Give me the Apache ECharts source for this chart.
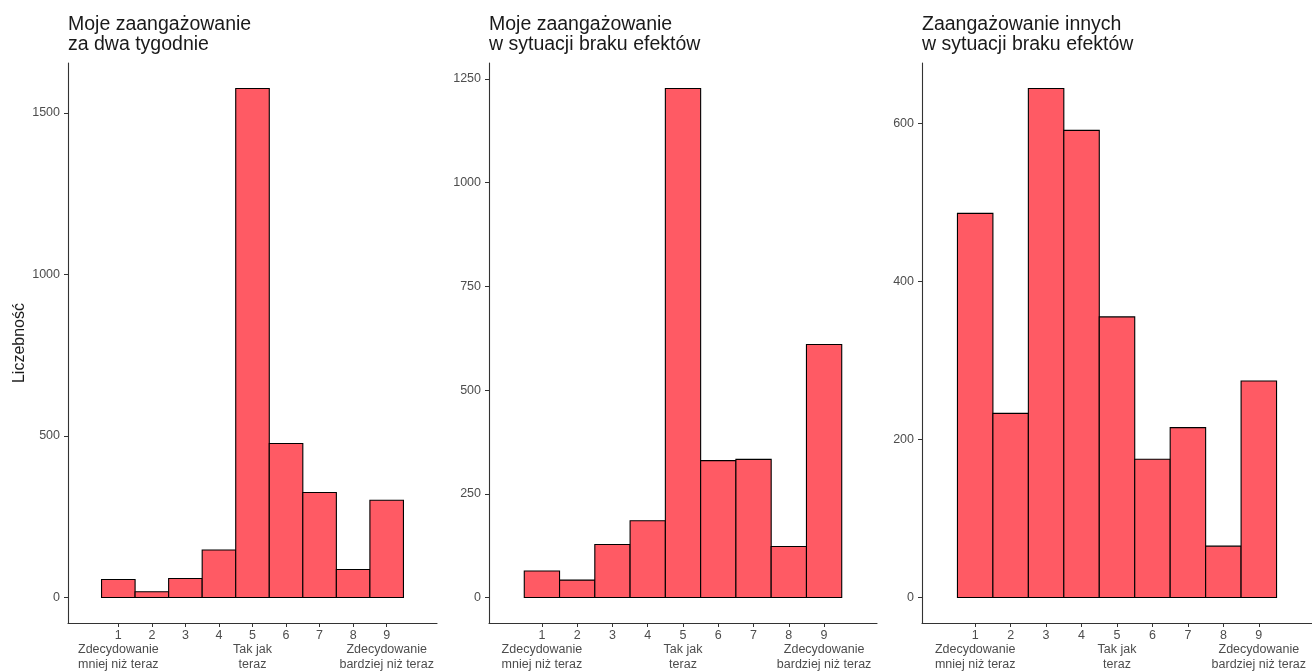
<!DOCTYPE html>
<html>
<head>
<meta charset="utf-8">
<script src="https://cdn.jsdelivr.net/npm/echarts@6/dist/echarts.min.js"></script>
<style>
html,body{margin:0;padding:0;background:#fff;}
#c{width:1312px;height:672px;}
</style>
</head>
<body>
<div id="c"></div>
<script>
// ---- data ----
const bins = [1, 2, 3, 4, 5, 6, 7, 8, 9];
const titles = [
  'Moje zaangażowanie\nza dwa tygodnie',
  'Moje zaangażowanie\nw sytuacji braku efektów',
  'Zaangażowanie innych\nw sytuacji braku efektów'
];
const ownTwoWeeks   = [56, 18, 59, 147, 1576, 477, 325, 87, 301];
const ownNoEffect   = [64, 42, 128, 185, 1227, 330, 333, 123, 610];
const otherNoEffect = [486, 233, 644, 591, 355, 175, 215, 65, 274];
const yTicks1 = [0, 500, 1000, 1500];
const yTicks2 = [0, 250, 500, 750, 1000, 1250];
const yTicks3 = [0, 200, 400, 600];
const anchorValues = [1, 5, 9];
const anchorLabels = ['Zdecydowanie\nmniej niż teraz', 'Tak jak\nteraz', 'Zdecydowanie\nbardziej niż teraz'];
const yName = 'Liczebność';

// ---- layout ----
const panels = [
  {data: ownTwoWeeks, ticks: yTicks1, left: 68, width: 369},
  {data: ownNoEffect, ticks: yTicks2, left: 489, width: 388},
  {data: otherNoEffect, ticks: yTicks3, left: 922, width: 395}
];
const FONT = 'Liberation Sans, Arial, sans-serif';
const AX = '#333333';
const TXT = '#4D4D4D';

const chart = echarts.init(document.getElementById('c'), null, {renderer: 'canvas'});

const xAxes = [];
panels.forEach((p, i) => {
  xAxes.push({
    type: 'value',
    gridIndex: i,
    min: -0.5,
    max: 10.5,
    splitLine: {show: false},
    axisLine: {show: true, onZero: false, lineStyle: {color: AX, width: 1.1}},
    axisTick: {show: true, length: 4, lineStyle: {color: AX}, customValues: bins},
    axisLabel: {
      show: true, customValues: bins, showMinLabel: true, showMaxLabel: true, hideOverlap: false,
      margin: 5, fontFamily: FONT, fontSize: 12.5, lineHeight: 14.5, color: TXT,
      formatter: v => String(v)
    }
  });
});
panels.forEach((p, i) => {
  xAxes.push({
    type: 'value',
    gridIndex: i,
    position: 'bottom',
    min: -0.5,
    max: 10.5,
    splitLine: {show: false},
    axisLine: {show: false, onZero: false},
    axisTick: {show: false},
    axisLabel: {
      show: true, customValues: anchorValues, showMinLabel: true, showMaxLabel: true, hideOverlap: false,
      margin: 19.5, fontFamily: FONT, fontSize: 12.5, lineHeight: 14.5, color: TXT,
      formatter: v => anchorLabels[anchorValues.indexOf(v)] || ''
    }
  });
});

const option = {
  backgroundColor: '#ffffff',
  animation: false,
  title: panels.map((p, i) => ({
    text: titles[i],
    left: p.left,
    top: 14,
    padding: 0,
    textStyle: {fontFamily: FONT, fontSize: 19.5, fontWeight: 'normal', color: '#1a1a1a', lineHeight: 20.5}
  })),
  grid: panels.map(p => ({left: p.left, top: 63, width: p.width, height: 560, containLabel: false})),
  xAxis: xAxes,
  yAxis: panels.map((p, i) => {
    const mx = Math.max(...p.data);
    return {
      type: 'value',
      gridIndex: i,
      min: -0.05 * mx,
      max: 1.05 * mx,
      splitLine: {show: false},
      axisLine: {show: true, onZero: false, lineStyle: {color: AX, width: 1.1}},
      axisTick: {show: true, length: 4, lineStyle: {color: AX}, customValues: p.ticks},
      axisLabel: {show: true, customValues: p.ticks, showMinLabel: true, showMaxLabel: true,
        margin: 8, fontFamily: FONT, fontSize: 12.5, color: TXT, formatter: v => String(v)},
      name: i === 0 ? yName : '',
      nameLocation: 'middle',
      nameGap: 40,
      nameRotate: 90,
      nameTextStyle: {fontFamily: FONT, fontSize: 16, color: '#1a1a1a'}
    };
  }),
  series: panels.map((p, i) => ({
    type: 'custom',
    xAxisIndex: i,
    yAxisIndex: i,
    data: bins.map((b, k) => [b, p.data[k]]),
    renderItem: function (params, api) {
      const x = api.value(0), y = api.value(1);
      const a = api.coord([x - 0.5, 0]);
      const b = api.coord([x + 0.5, y]);
      return {
        type: 'rect',
        shape: {x: a[0], y: b[1], width: b[0] - a[0], height: a[1] - b[1]},
        style: {fill: '#FF5A64', stroke: '#000000', lineWidth: 1.1}
      };
    }
  }))
};
chart.setOption(option);
</script>
</body>
</html>
